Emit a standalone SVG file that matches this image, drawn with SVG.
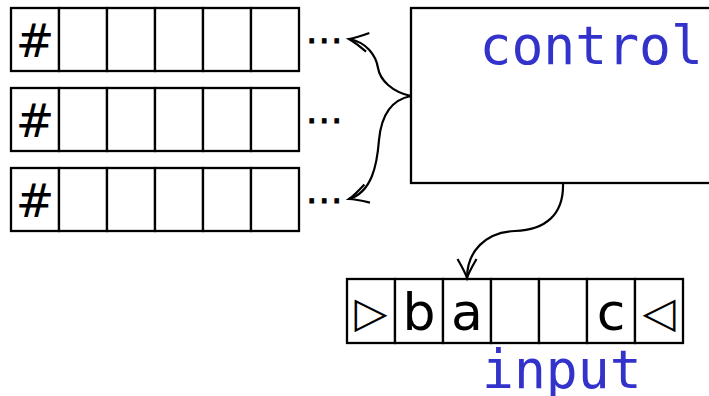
<svg xmlns="http://www.w3.org/2000/svg" width="709" height="396" viewBox="0 0 709 396">
<style>
.cell{fill:#fff;stroke:#000;stroke-width:2.3}
.sym{font-family:"DejaVu Sans",sans-serif;fill:#000;text-anchor:middle}
.lbl{font-family:"DejaVu Sans Mono",monospace;font-size:53px;fill:#3333cc}
.dots{font-family:"DejaVu Sans",sans-serif;font-size:36px;letter-spacing:1px;fill:#000;stroke:#000;stroke-width:0.9}
.conn{fill:none;stroke:#000;stroke-width:2.2}
</style>
<defs>
<marker id="ah" markerUnits="userSpaceOnUse" markerWidth="30" markerHeight="30" viewBox="-22 -15 30 30" refX="0" refY="0" orient="auto">
<path d="M-19,-9.5 Q-6,-2 0,0 Q-6,2 -19,9.5" fill="none" stroke="#000" stroke-width="2.2"/>
</marker>
<g id="tapecells">
<rect class="cell" x="11" y="0" width="48" height="63"/>
<rect class="cell" x="59" y="0" width="48" height="63"/>
<rect class="cell" x="107" y="0" width="48" height="63"/>
<rect class="cell" x="155" y="0" width="48" height="63"/>
<rect class="cell" x="203" y="0" width="48" height="63"/>
<rect class="cell" x="251" y="0" width="48" height="63"/>
</g>
</defs>
<g id="tape1">
<use href="#tapecells" y="8"/>
<text class="sym" x="35" y="57" font-size="46">#</text>
<text class="dots" x="306" y="53">···</text>
</g>
<g id="tape2">
<use href="#tapecells" y="88"/>
<text class="sym" x="35" y="137" font-size="46">#</text>
<text class="dots" x="306" y="133">···</text>
</g>
<g id="tape3">
<use href="#tapecells" y="168"/>
<text class="sym" x="35" y="217" font-size="46">#</text>
<text class="dots" x="306" y="213">···</text>
</g>
<g id="control">
<rect class="cell" x="411" y="8" width="330" height="175"/>
<text class="lbl" x="479.5" y="64">control</text>
</g>
<g id="input">
<rect class="cell" x="347" y="279" width="48" height="64"/>
<rect class="cell" x="395" y="279" width="48" height="64"/>
<rect class="cell" x="443" y="279" width="48" height="64"/>
<rect class="cell" x="491" y="279" width="48" height="64"/>
<rect class="cell" x="539" y="279" width="48" height="64"/>
<rect class="cell" x="587" y="279" width="48" height="64"/>
<rect class="cell" x="635" y="279" width="48" height="64"/>
<text class="sym" x="371" y="327" font-size="43">▷</text>
<text class="sym" x="419" y="330" font-size="52">b</text>
<text class="sym" x="467" y="330" font-size="52">a</text>
<text class="sym" x="611" y="330" font-size="52">c</text>
<text class="sym" x="659" y="327" font-size="43">◁</text>
<text class="lbl" x="482" y="388">input</text>
</g>
<g id="connectors">
<path class="conn" marker-end="url(#ah)" d="M411,96 C392,92 380,80 378,68 C376,55 366,42 349,39"/>
<path class="conn" marker-end="url(#ah)" d="M411,96 C390,100 381,118 379,140 C377,165 372,192 349,199"/>
<path class="conn" marker-end="url(#ah)" d="M563,183 C564,215 545,230 515,231 C485,232 467,252 467,278"/>
</g>
</svg>
